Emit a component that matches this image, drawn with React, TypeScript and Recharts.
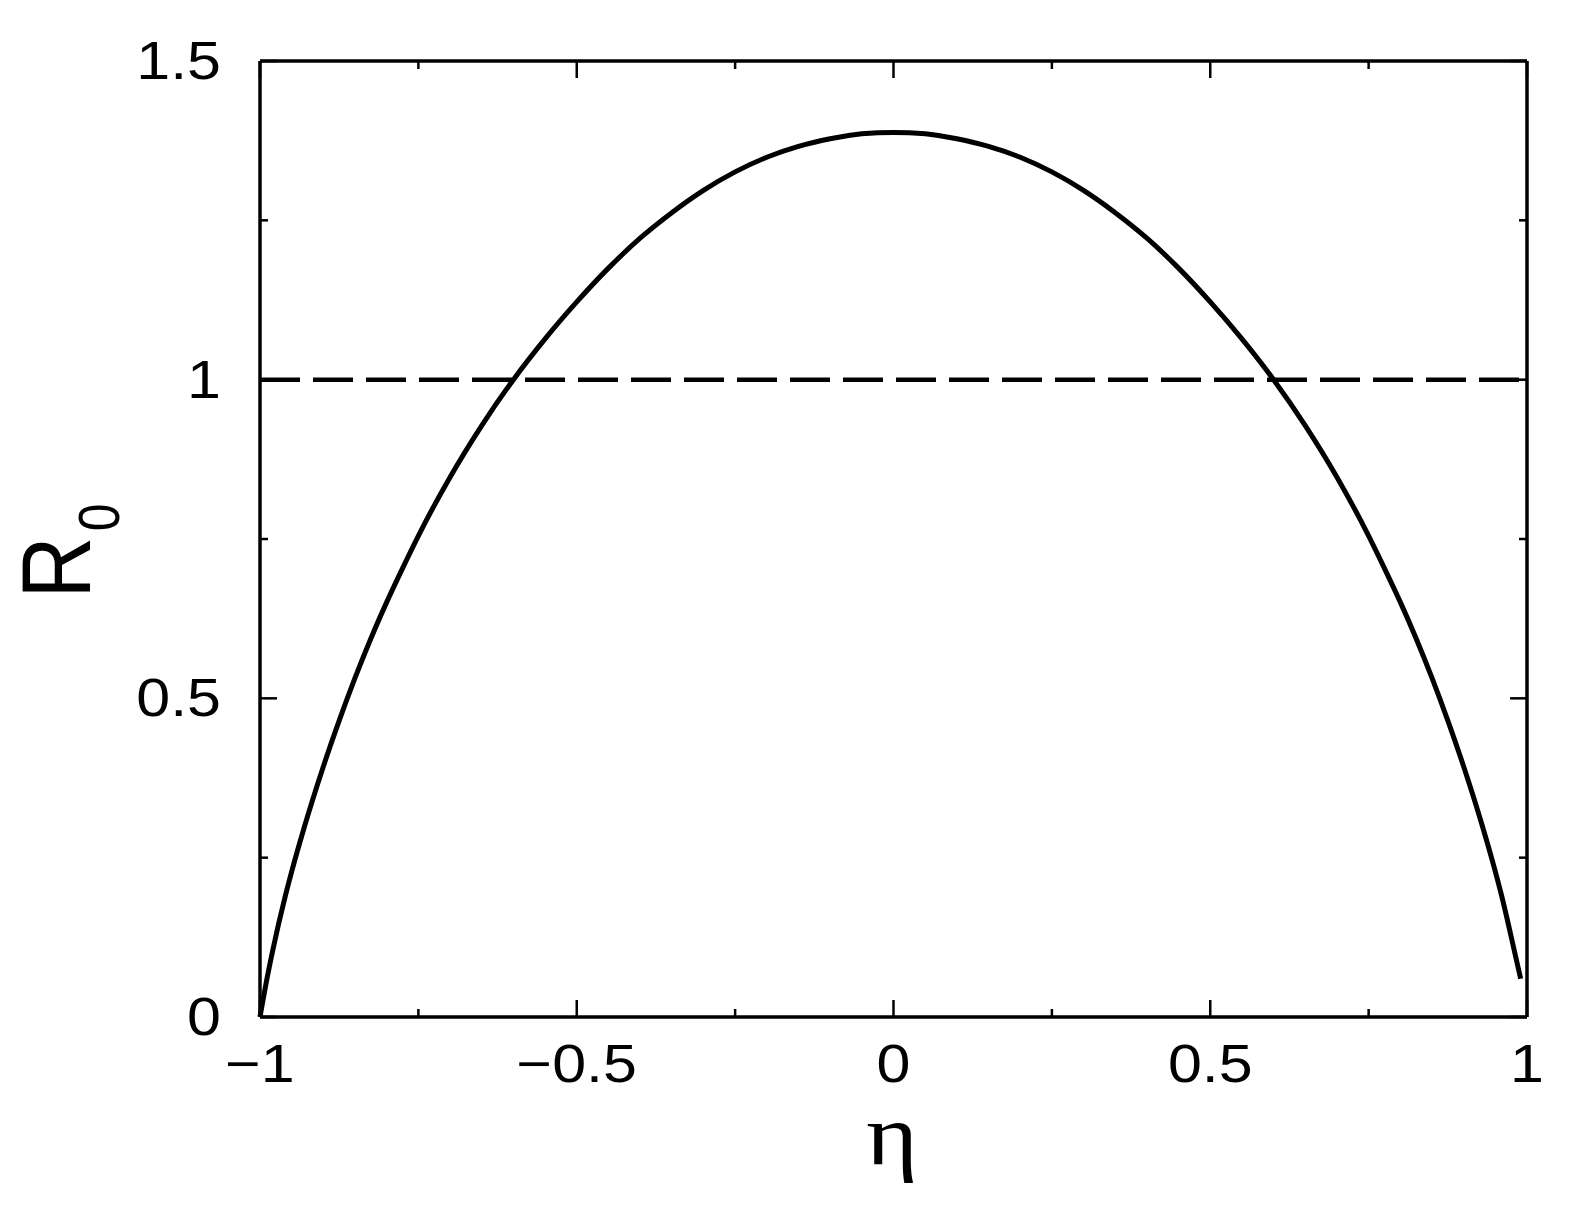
import React from "react";
import { LineChart, Line, XAxis, YAxis, Label } from "recharts";

// values
const eta = [
  -1, -0.99, -0.98, -0.96, -0.95, -0.93, -0.9, -0.875, -0.85, -0.825, -0.8,
  -0.775, -0.75, -0.7, -0.65, -0.6, -0.55, -0.5, -0.45, -0.4, -0.35, -0.3,
  -0.25, -0.2, -0.15, -0.1, -0.05, 0, 0.05, 0.1, 0.15, 0.2, 0.25, 0.3, 0.35,
  0.4, 0.45, 0.5, 0.55, 0.6, 0.65, 0.7, 0.75, 0.775, 0.8, 0.825, 0.85, 0.875,
  0.9, 0.93, 0.95, 0.96, 0.98, 0.99,
];
const r0 = [
  0, 0.055, 0.104, 0.19, 0.228, 0.298, 0.393, 0.465, 0.532, 0.594, 0.651,
  0.704, 0.755, 0.847, 0.928, 1.0, 1.064, 1.122, 1.175, 1.222, 1.262, 1.297,
  1.326, 1.349, 1.366, 1.378, 1.386, 1.388, 1.386, 1.378, 1.366, 1.349, 1.326,
  1.297, 1.262, 1.222, 1.175, 1.122, 1.064, 1.0, 0.928, 0.847, 0.755, 0.704,
  0.651, 0.594, 0.532, 0.465, 0.393, 0.298, 0.228, 0.19, 0.104, 0.06,
];
// dashed reference level R0 = 1
const threshold = 1;

const xTicks = [-1, -0.75, -0.5, -0.25, 0, 0.25, 0.5, 0.75, 1];
const xMajor = [-1, -0.5, 0, 0.5, 1];
const yTicks = [0, 0.25, 0.5, 0.75, 1, 1.25, 1.5];
const yMajor = [0, 0.5, 1, 1.5];

const data = eta.map((e, i) => ({ eta: e, r0: r0[i], thr: threshold }));

const FONT = "'Liberation Sans', Arial, Helvetica, sans-serif";
const STRETCH = 1.15;
const MAJOR = 17;
const MINOR = 8;

const fmt = (v: number) => (v < 0 ? "\u2212" + String(-v) : String(v));

function BottomTick(props: any) {
  const { x, y, payload } = props;
  const v = payload.value;
  const major = xMajor.includes(v);
  return (
    <g>
      <line x1={x} y1={y} x2={x} y2={y - (major ? MAJOR : MINOR)} stroke="#000" strokeWidth={2.5} />
      {major && (
        <text
          transform={`translate(${x},${y + 65}) scale(${STRETCH},1)`}
          textAnchor="middle"
          fontSize={53}
          fontFamily={FONT}
          fill="#000"
        >
          {fmt(v)}
        </text>
      )}
    </g>
  );
}

function TopTick(props: any) {
  const { x, y, payload } = props;
  const major = xMajor.includes(payload.value);
  return <line x1={x} y1={y} x2={x} y2={y + (major ? MAJOR : MINOR)} stroke="#000" strokeWidth={2.5} />;
}

function LeftTick(props: any) {
  const { x, y, payload } = props;
  const v = payload.value;
  const major = yMajor.includes(v);
  return (
    <g>
      <line x1={x} y1={y} x2={x + (major ? MAJOR : MINOR)} y2={y} stroke="#000" strokeWidth={2.5} />
      {major && (
        <text
          transform={`translate(${x - 39},${y + 18}) scale(${STRETCH},1)`}
          textAnchor="end"
          fontSize={53}
          fontFamily={FONT}
          fill="#000"
        >
          {fmt(v)}
        </text>
      )}
    </g>
  );
}

function RightTick(props: any) {
  const { x, y, payload } = props;
  const major = yMajor.includes(payload.value);
  return <line x1={x} y1={y} x2={x - (major ? MAJOR : MINOR)} y2={y} stroke="#000" strokeWidth={2.5} />;
}

function YTitle() {
  return (
    <text
      transform={`translate(90,551) scale(${STRETCH},1) rotate(-90)`}
      textAnchor="middle"
      fontSize={86}
      fontFamily={FONT}
      fill="#000"
    >
      R
      <tspan fontSize={50} dx={5} dy={25}>
        0
      </tspan>
    </text>
  );
}

function XTitle() {
  return (
    <text
      transform={`translate(892,1164) scale(${STRETCH},1)`}
      textAnchor="middle"
      fontSize={86}
      fontFamily="'Liberation Serif', 'DejaVu Serif', serif"
      fill="#000"
    >
      η
    </text>
  );
}

const axisLine = { stroke: "#000", strokeWidth: 3.5 };

export default function App() {
  return (
    <div style={{ position: "absolute", left: 0, top: 0, background: "#fff" }}>
      <LineChart
        width={1582}
        height={1212}
        data={data}
        margin={{ top: 0, right: 0, bottom: 0, left: 0 }}
      >
        <XAxis
          xAxisId="bottom"
          dataKey="eta"
          type="number"
          domain={[-1, 1]}
          ticks={xTicks}
          interval={0}
          height={195}
          tickSize={0}
          tickMargin={0}
          tickLine={false}
          axisLine={axisLine}
          tick={<BottomTick />}
        >
          <Label content={<XTitle />} />
        </XAxis>
        <XAxis
          xAxisId="top"
          dataKey="eta"
          orientation="top"
          type="number"
          domain={[-1, 1]}
          ticks={xTicks}
          interval={0}
          height={61}
          tickSize={0}
          tickMargin={0}
          tickLine={false}
          axisLine={axisLine}
          tick={<TopTick />}
        />
        <YAxis
          yAxisId="left"
          type="number"
          domain={[0, 1.5]}
          ticks={yTicks}
          interval={0}
          width={260}
          tickSize={0}
          tickMargin={0}
          tickLine={false}
          axisLine={axisLine}
          tick={<LeftTick />}
        >
          <Label content={<YTitle />} />
        </YAxis>
        <YAxis
          yAxisId="right"
          orientation="right"
          type="number"
          domain={[0, 1.5]}
          ticks={yTicks}
          interval={0}
          width={55}
          tickSize={0}
          tickMargin={0}
          tickLine={false}
          axisLine={axisLine}
          tick={<RightTick />}
        />
        <Line
          xAxisId="top"
          yAxisId="right"
          type="linear"
          dataKey="thr"
          stroke="#000"
          strokeWidth={4.5}
          strokeDasharray="40 13"
          dot={false}
          isAnimationActive={false}
        />
        <Line
          xAxisId="bottom"
          yAxisId="left"
          type="monotone"
          dataKey="r0"
          stroke="#000"
          strokeWidth={5}
          dot={false}
          isAnimationActive={false}
        />
      </LineChart>
    </div>
  );
}
